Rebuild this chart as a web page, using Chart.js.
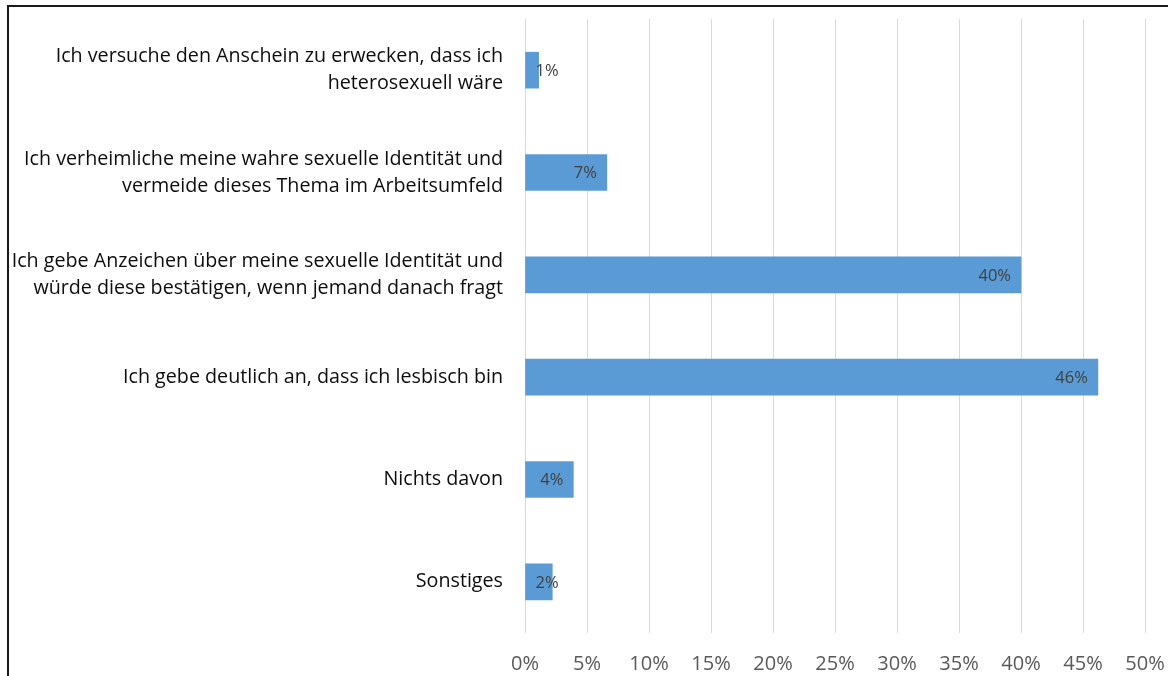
<!DOCTYPE html>
<html>
<head>
<meta charset="utf-8">
<script src="https://cdn.jsdelivr.net/npm/chart.js@4"></script>
<style>
  html, body { margin: 0; padding: 0; background: #fff; }
  #wrap { position: relative; width: 1168px; height: 676px; }
  #frame {
    position: absolute; left: 7px; top: 5px; right: 0; bottom: 0;
    border-left: 2px solid #1a1a1a; border-top: 2px solid #1a1a1a;
    pointer-events: none;
  }
</style>
</head>
<body>
<div id="wrap">
  <canvas id="myChart" width="1168" height="676"></canvas>
  <div id="frame"></div>
</div>
<script>
(function () {
    'use strict';

    // ── Data ───────────────────────────────────────────────────────────────────
    const categories = [
        ['Ich versuche den Anschein zu erwecken, dass ich', 'heterosexuell wäre'],
        ['Ich verheimliche meine wahre sexuelle Identität und', 'vermeide dieses Thema im Arbeitsumfeld'],
        ['Ich gebe Anzeichen über meine sexuelle Identität und', 'würde diese bestätigen, wenn jemand danach fragt'],
        'Ich gebe deutlich an, dass ich lesbisch bin',
        'Nichts davon',
        'Sonstiges'
    ];
    const shares      = [1.1, 6.6, 40.0, 46.2, 3.9, 2.2];   // percent
    const valueLabels = ['1%', '7%', '40%', '46%', '4%', '2%'];

    const FONT = '"Open Sans", Lato, sans-serif';

    // ── Data labels: inside end, pushed right of bar start for short bars ──────
    const barLabelPlugin = {
        id: 'barLabels',
        afterDatasetsDraw(chart) {
            const { ctx } = chart;
            const meta = chart.getDatasetMeta(0);
            ctx.save();
            ctx.font = '16.5px ' + FONT;
            ctx.fillStyle = '#404040';
            ctx.textAlign = 'left';
            ctx.textBaseline = 'middle';
            meta.data.forEach((bar, i) => {
                const txt = valueLabels[i];
                const tw  = ctx.measureText(txt).width;
                const x   = Math.max(bar.x - 10 - tw, bar.base + 10);
                ctx.fillText(txt, x, bar.y + 1);
            });
            ctx.restore();
        }
    };

    // ── Chart ──────────────────────────────────────────────────────────────────
    const chart = new Chart(document.getElementById('myChart').getContext('2d'), {
        type: 'bar',
        data: {
            labels: categories,
            datasets: [{
                data: shares,
                backgroundColor: '#5b9bd5',
                borderWidth: 0,
                barThickness: 36
            }]
        },
        options: {
            indexAxis: 'y',
            responsive: false,
            animation: false,
            layout: { padding: { top: 19, right: 23, left: 0, bottom: 0 } },
            plugins: {
                legend: { display: false },
                tooltip: { enabled: false }
            },
            scales: {
                x: {
                    min: 0,
                    max: 50,
                    ticks: {
                        stepSize: 5,
                        padding: 19,
                        color: '#595959',
                        font: { family: FONT, size: 20 },
                        callback: (v) => v + '%'
                    },
                    grid: { color: '#d9d9d9', lineWidth: 1, drawTicks: false },
                    border: { display: false },
                    afterFit: (s) => { s.height = 43; s.paddingLeft = 0; s.paddingRight = 0; }
                },
                y: {
                    ticks: {
                        padding: 22,
                        color: '#0d0d0d',
                        font: { family: FONT, size: 19.7, lineHeight: 1.38 }
                    },
                    grid: { display: false, drawTicks: false },
                    border: { display: false },
                    afterFit: (s) => { s.width = 525; s.paddingTop = 0; s.paddingBottom = 0; }
                }
            }
        },
        plugins: [barLabelPlugin]
    });
}());
</script>
</body>
</html>
